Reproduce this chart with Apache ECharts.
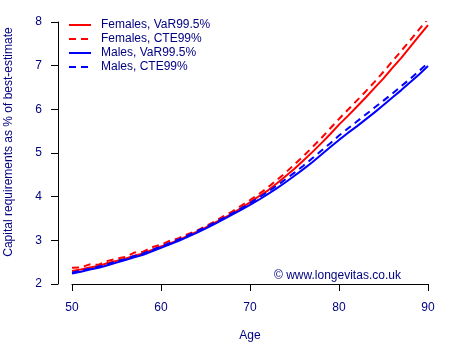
<!DOCTYPE html>
<html>
<head>
<meta charset="utf-8">
<script src="https://cdn.jsdelivr.net/npm/echarts@6/dist/echarts.min.js"></script>
<style>
  html, body { margin: 0; padding: 0; background: #fff; }
  #chart { width: 450px; height: 350px; }
</style>
</head>
<body>
<div id="chart"></div>
<script>
// ages 50..90
const ages = [50, 51, 52, 53, 54, 55, 56, 57, 58, 59, 60, 61, 62, 63, 64, 65, 66, 67, 68, 69, 70,
  71, 72, 73, 74, 75, 76, 77, 78, 79, 80, 81, 82, 83, 84, 85, 86, 87, 88, 89, 90]

const femalesVaR = [2.30, 2.33, 2.38, 2.41, 2.48, 2.53, 2.58, 2.65, 2.70, 2.78, 2.86, 2.93, 3.01, 3.10, 3.19,
  3.29, 3.40, 3.50, 3.61, 3.74, 3.87, 4.01, 4.14, 4.30, 4.47, 4.64, 4.83, 5.02, 5.22, 5.43,
  5.65, 5.85, 6.06, 6.27, 6.49, 6.71, 6.95, 7.18, 7.43, 7.68, 7.93]

const femalesCTE = [2.37, 2.38, 2.45, 2.44, 2.53, 2.58, 2.62, 2.72, 2.74, 2.84, 2.90, 2.99, 3.05, 3.14, 3.22,
  3.32, 3.43, 3.55, 3.66, 3.79, 3.92, 4.06, 4.21, 4.38, 4.55, 4.74, 4.93, 5.13, 5.34, 5.56,
  5.78, 5.99, 6.20, 6.41, 6.63, 6.86, 7.10, 7.34, 7.58, 7.83, 8.08]

const malesVaR = [2.24, 2.28, 2.33, 2.37, 2.43, 2.49, 2.55, 2.61, 2.67, 2.75, 2.83, 2.91, 2.99, 3.08, 3.17,
  3.27, 3.37, 3.48, 3.59, 3.70, 3.81, 3.93, 4.06, 4.19, 4.33, 4.48, 4.63, 4.79, 4.96, 5.13,
  5.30, 5.46, 5.61, 5.77, 5.93, 6.10, 6.27, 6.44, 6.62, 6.80, 6.99]

const malesCTE = [2.26, 2.31, 2.35, 2.40, 2.45, 2.52, 2.57, 2.64, 2.70, 2.78, 2.86, 2.94, 3.02, 3.11, 3.21,
  3.30, 3.40, 3.51, 3.62, 3.73, 3.85, 3.98, 4.11, 4.25, 4.40, 4.55, 4.71, 4.88, 5.05, 5.22,
  5.40, 5.56, 5.72, 5.88, 6.04, 6.20, 6.36, 6.53, 6.70, 6.88, 7.06]

const seriesNames = ['Females, VaR99.5%', 'Females, CTE99%', 'Males, VaR99.5%', 'Males, CTE99%']

const textColor = '#000080'
const font = 'Liberation Sans, Arial, sans-serif'

const pairs = vals => ages.map((a, i) => [a, vals[i]])

const mkLine = (name, vals, color, dashed) => ({
  name,
  type: 'line',
  data: pairs(vals),
  symbol: 'none',
  smooth: false,
  lineStyle: { color, width: 2, type: dashed ? [7, 5] : 'solid' },
  itemStyle: { color },
  silent: true
})

const chart = echarts.init(document.getElementById('chart'), null, { renderer: 'canvas' })

chart.setOption({
  animation: false,
  backgroundColor: '#fff',
  textStyle: { fontFamily: font },
  grid: { left: 72, right: 22, top: 22, bottom: 66, outerBoundsMode: 'none', containLabel: false },
  legend: {
    data: seriesNames,
    orient: 'vertical',
    left: 68,
    top: 19,
    padding: 0,
    itemWidth: 22,
    itemHeight: 12,
    itemGap: 2,
    itemStyle: { opacity: 0 },
    textStyle: { color: textColor, fontSize: 12, fontFamily: font, padding: [0, 0, 0, 5] }
  },
  xAxis: {
    type: 'value',
    min: 50,
    max: 90,
    interval: 10,
    name: 'Age',
    nameLocation: 'middle',
    nameGap: 46,
    nameTextStyle: { color: textColor, fontSize: 12, fontFamily: font },
    axisLine: { show: true, lineStyle: { color: '#000', width: 1 } },
    axisTick: { show: true, length: 7, lineStyle: { color: '#000' } },
    axisLabel: { color: textColor, fontSize: 12, fontFamily: font, margin: 18 },
    splitLine: { show: false }
  },
  yAxis: {
    type: 'value',
    min: 2,
    max: 8,
    interval: 1,
    offset: 14,
    name: 'Capital requirements as % of best-estimate',
    nameLocation: 'middle',
    nameGap: 43,
    nameRotate: 90,
    nameTextStyle: { color: textColor, fontSize: 12, fontFamily: font, padding: [0, 0, 0, 22] },
    axisLine: { show: true, lineStyle: { color: '#000', width: 1 } },
    axisTick: { show: true, length: 7, lineStyle: { color: '#000' } },
    axisLabel: { color: textColor, fontSize: 12, fontFamily: font, margin: 16 },
    splitLine: { show: false }
  },
  graphic: [{
    type: 'text',
    left: 274,
    top: 270,
    style: { text: '\u00a9 www.longevitas.co.uk', fill: textColor, font: '12px ' + font }
  }],
  series: [
    mkLine(seriesNames[0], femalesVaR, '#ff0000', false),
    mkLine(seriesNames[1], femalesCTE, '#ff0000', true),
    mkLine(seriesNames[2], malesVaR, '#0000ff', false),
    mkLine(seriesNames[3], malesCTE, '#0000ff', true)
  ]
})
</script>
</body>
</html>
